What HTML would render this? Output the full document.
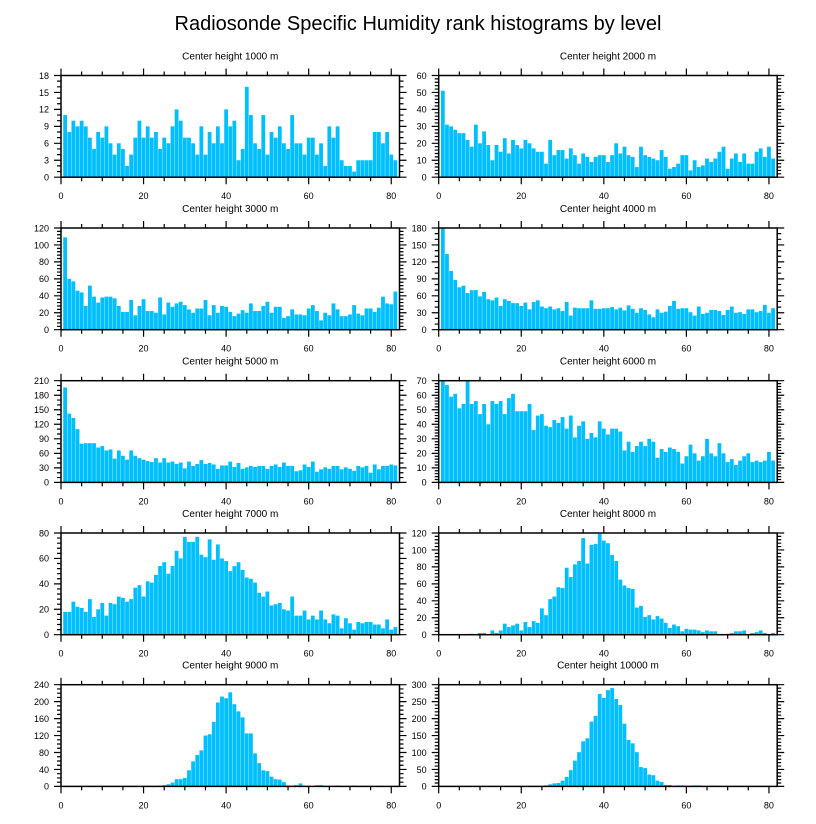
<!DOCTYPE html>
<html><head><meta charset="utf-8"><style>
html,body{margin:0;padding:0;background:#fff;}
svg{display:block;font-family:"Liberation Sans",sans-serif;}
</style></head><body>
<svg id="chart" width="816" height="824" viewBox="0 0 816 824" xmlns="http://www.w3.org/2000/svg">
<text x="418" y="30" text-anchor="middle" font-size="20">Radiosonde Specific Humidity rank histograms by level</text>
</svg>
<script>
const panelTitles = ["Center height 1000 m","Center height 2000 m","Center height 3000 m","Center height 4000 m","Center height 5000 m","Center height 6000 m","Center height 7000 m","Center height 8000 m","Center height 9000 m","Center height 10000 m"];
const yMaxes = [18,60,120,180,210,70,80,120,240,300];
const ySteps = [3,10,20,30,30,10,20,20,40,50];
const xTicks = [0,20,40,60,80];
const h1000 = [11,8,10,9,10,9,7,5,8,7,9,6,4,6,5,2,4,7,10,7,9,7,8,5,7,6,9,12,10,7,7,6,4,9,4,8,6,9,6,12,9,10,3,5,16,11,6,5,11,4,8,7,9,6,5,11,6,6,4,7,7,4,6,2,9,7,9,3,2,2,1,3,3,3,3,8,8,6,8,4,3];
const h2000 = [51,31,30,28,26,26,22,18,31,20,27,19,10,19,15,23,14,22,19,17,22,20,17,15,15,8,22,13,16,16,11,17,13,8,14,12,9,12,13,13,9,13,20,14,18,13,12,6,18,13,12,11,10,16,12,5,6,8,13,13,4,10,6,7,11,9,11,15,18,5,11,14,9,14,8,8,15,17,12,18,11];
const h3000 = [109,60,57,46,44,28,52,39,32,38,39,39,37,28,21,21,35,17,28,36,22,22,20,38,18,32,27,31,33,29,24,20,25,25,35,17,29,20,28,27,21,16,19,23,20,31,22,22,28,33,20,27,27,14,16,24,18,18,17,25,29,22,11,20,17,31,24,16,16,18,29,19,17,25,25,21,26,39,31,30,45];
const h4000 = [180,134,104,88,75,78,65,70,70,59,67,54,52,57,42,54,51,47,47,42,48,36,49,52,41,38,41,36,38,33,49,25,39,38,38,38,52,37,37,38,38,40,36,39,34,43,37,30,38,35,27,22,36,30,32,42,51,37,38,38,31,25,41,28,30,35,35,33,26,35,41,30,31,28,36,36,31,33,44,30,38];
const h5000 = [196,142,133,110,80,81,81,81,72,75,66,68,49,66,55,47,66,55,50,47,44,42,50,41,50,41,43,38,41,29,43,34,38,46,38,40,37,28,35,35,43,32,40,28,31,34,32,34,34,28,34,37,32,41,34,34,23,25,37,32,43,22,27,31,28,34,34,27,31,28,24,34,31,34,20,37,27,34,34,37,35];
const h6000 = [70,67,59,61,51,54,70,54,56,47,54,40,56,54,56,47,58,61,49,49,49,54,36,46,47,39,38,43,41,45,37,46,31,39,42,30,34,31,42,37,33,37,37,35,22,28,21,25,28,25,30,28,17,23,21,24,23,21,13,18,26,20,15,18,30,20,18,27,20,14,16,12,15,18,20,14,15,14,15,21,15];
const h7000 = [18,18,26,22,21,18,28,14,20,25,15,25,24,30,29,26,28,37,39,30,42,41,47,54,57,48,54,66,60,77,73,73,77,63,61,75,59,71,60,58,50,54,57,51,45,44,41,33,30,34,23,24,25,20,19,30,15,15,19,12,15,12,19,12,9,16,15,5,13,9,4,10,9,10,10,8,8,5,12,4,6];
const h8000 = [0,0,0,0,0,0,0,1,0,2,2,0,5,2,5,13,9,11,13,5,15,9,16,14,31,23,42,45,56,55,79,68,83,87,114,84,106,107,119,111,108,94,87,65,58,55,54,32,34,21,23,18,22,19,14,8,12,10,4,7,6,6,5,3,5,4,4,0,0,1,2,4,4,5,0,2,3,5,2,0,2];
const h9000 = [0,0,0,0,0,0,0,0,0,0,0,0,0,0,0,0,0,0,0,0,1,1,1,2,3,5,9,17,17,20,38,59,74,85,120,123,152,198,212,208,222,194,177,163,125,125,78,55,38,36,23,17,16,10,2,2,3,7,2,1,1,3,3,1,1,1,2,1,0,1,2,0,0,0,0,0,0,0,0,0,0];
const h10000 = [0,0,0,0,0,0,0,0,0,0,0,0,0,0,0,0,0,0,0,0,0,0,0,0,0,3,6,9,10,17,28,48,76,101,133,142,191,208,273,261,284,290,258,240,185,137,127,101,57,54,35,33,17,13,4,4,2,3,3,2,2,3,3,0,0,2,2,0,0,0,0,0,0,0,0,0,0,0,0,0,0];
const series = [h1000,h2000,h3000,h4000,h5000,h6000,h7000,h8000,h9000,h10000];

const NS = "http://www.w3.org/2000/svg";
const svg = document.getElementById('chart');
const colX = [61, 438.7];
const axW = 338.5;
const rowTop = [75.5, 228, 380.7, 533, 684.7];
const axH = 101.7;
const XMAX = 82;

function mk(tag, attrs, parent) {
  const e = document.createElementNS(NS, tag);
  for (const k in attrs) e.setAttribute(k, attrs[k]);
  parent.appendChild(e);
  return e;
}

series.forEach((vals, p) => {
  const x0 = colX[p % 2], y0 = rowTop[Math.floor(p / 2)];
  const xs = v => x0 + v / XMAX * axW;
  const ys = v => y0 + axH - v / yMaxes[p] * axH;
  const g = mk('g', {}, svg);
  
  

  const t = mk('text', {x: x0 + axW / 2, y: y0 - 16, 'text-anchor': 'middle', 'font-size': '10'}, g);
  
  
  t.textContent = panelTitles[p];

  vals.forEach((v, i) => {
    const c = i + 1;
    const r = mk('rect', {x: xs(c - 0.46), width: xs(c + 0.46) - xs(c - 0.46), y: ys(Math.min(v, yMaxes[p])), height: ys(0) - ys(Math.min(v, yMaxes[p])), fill: '#00bfff'}, g);
    
    
  });

  const frame = mk('rect', {x: x0, y: y0, width: axW, height: axH, fill: 'none', stroke: '#000', 'stroke-width': '1.5'}, g);
  
  

  let d = '';
  for (let u = 0; u <= XMAX; u += 5) {
    const major = u % 20 === 0;
    const L = major ? 7 : 4;
    const X = xs(u);
    d += `M${X},${y0 + axH}v${L}M${X},${y0}v${-L}`;
  }
  const st = ySteps[p];
  const nm = (st % 3 === 0) ? 3 : (st === 40 ? 4 : 5);
  const ms = st / nm;
  for (let k = 0; k * ms <= yMaxes[p] + 1e-9; k++) {
    const v = k * ms;
    const major = k % nm === 0;
    const L = major ? 7 : 4;
    const Y = ys(v);
    d += `M${x0},${Y}h${-L}M${x0 + axW},${Y}h${L}`;
  }
  const ticks = mk('path', {d: d, stroke: '#000', 'stroke-width': '1.2', fill: 'none'}, g);
  
  

  xTicks.forEach(v => {
    const tx = mk('text', {x: xs(v), y: y0 + axH + 22, 'text-anchor': 'middle', 'font-size': '9'}, g);
    
    
    tx.textContent = v;
  });
  for (let v = 0; v <= yMaxes[p] + 1e-9; v += st) {
    const ty = mk('text', {x: x0 - 12, y: ys(v) + 3.3, 'text-anchor': 'end', 'font-size': '9'}, g);
    
    
    ty.textContent = v;
  }
});
</script>
</body></html>
